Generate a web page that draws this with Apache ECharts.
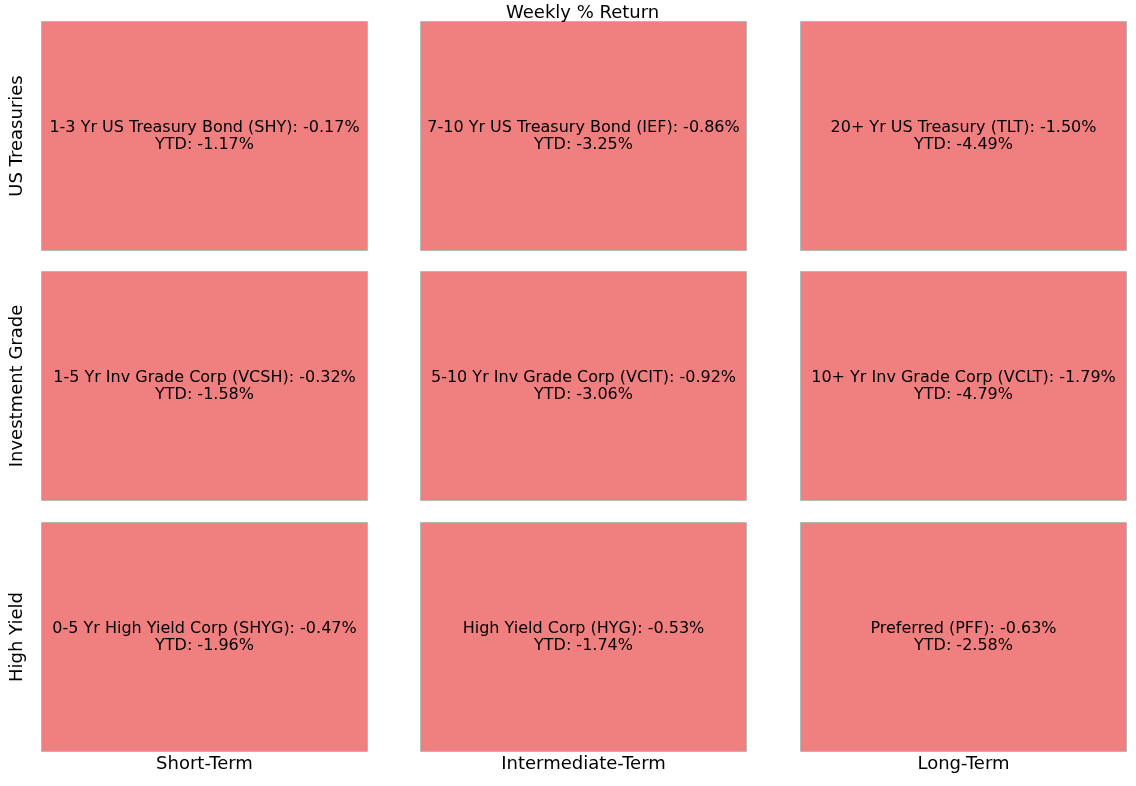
<!DOCTYPE html>
<html>
<head>
<meta charset="utf-8">
<script src="https://cdn.jsdelivr.net/npm/echarts@6/dist/echarts.min.js"></script>
<style>
  html, body { margin: 0; padding: 0; background: #fff; }
  #chart { width: 1136px; height: 786px; }
</style>
</head>
<body>
<div id="chart"></div>
<script>
const rowLabels = ['US Treasuries', 'Investment Grade', 'High Yield'];
const colLabels = ['Short-Term', 'Intermediate-Term', 'Long-Term'];
const fundNames = [
  ['1-3 Yr US Treasury Bond (SHY)', '7-10 Yr US Treasury Bond (IEF)', '20+ Yr US Treasury (TLT)'],
  ['1-5 Yr Inv Grade Corp (VCSH)', '5-10 Yr Inv Grade Corp (VCIT)', '10+ Yr Inv Grade Corp (VCLT)'],
  ['0-5 Yr High Yield Corp (SHYG)', 'High Yield Corp (HYG)', 'Preferred (PFF)'],
];
const weeklyReturn = [
  [-0.17, -0.86, -1.50],
  [-0.32, -0.92, -1.79],
  [-0.47, -0.53, -0.63],
];
const ytdReturn = [
  [-1.17, -3.25, -4.49],
  [-1.58, -3.06, -4.79],
  [-1.96, -1.74, -2.58],
];

const FONT = 'DejaVu Sans';
const colLeft = [41, 420, 800];
const rowTop = [21, 271, 522];
const cellW = 327;
const cellH = 230;

const grids = [];
const xAxes = [];
const yAxes = [];
const series = [];

rowLabels.forEach((rowName, r) => {
  colLabels.forEach((colName, c) => {
    const idx = r * 3 + c;
    grids.push({
      left: colLeft[c], top: rowTop[r], width: cellW, height: cellH,
      show: false,
    });
    xAxes.push({
      gridIndex: idx,
      type: 'category',
      data: [colName],
      axisLine: { show: false },
      axisTick: { show: false },
      axisLabel: { show: false },
      name: r === 2 ? colName : '',
      nameLocation: 'middle',
      nameGap: 3,
      nameTextStyle: { fontFamily: FONT, fontSize: 18, color: '#000', verticalAlign: 'top' },
    });
    yAxes.push({
      gridIndex: idx,
      type: 'value',
      min: 0,
      max: 1,
      axisLine: { show: false },
      axisTick: { show: false },
      axisLabel: { show: false },
      splitLine: { show: false },
      name: c === 0 ? rowName : '',
      nameLocation: 'middle',
      nameRotate: 90,
      nameGap: 15,
      nameTextStyle: { fontFamily: FONT, fontSize: 18, color: '#000' },
    });
    const w = weeklyReturn[r][c];
    series.push({
      type: 'bar',
      xAxisIndex: idx,
      yAxisIndex: idx,
      barWidth: '100%',
      silent: true,
      data: [{
        value: 1,
        itemStyle: {
          color: w < 0 ? '#F08080' : '#90EE90',
          borderColor: '#b8b8b8',
          borderWidth: 1,
        },
      }],
      label: {
        show: true,
        position: 'inside',
        fontFamily: FONT,
        fontSize: 16,
        lineHeight: 17,
        color: '#000',
        align: 'center',
        formatter: () => `${fundNames[r][c]}: ${w.toFixed(2)}%\nYTD: ${ytdReturn[r][c].toFixed(2)}%`,
      },
    });
  });
});

const chart = echarts.init(document.getElementById('chart'), null, { renderer: 'canvas' });
chart.setOption({
  animation: false,
  backgroundColor: '#fff',
  title: {
    text: 'Weekly % Return',
    left: 501,
    top: -1,
    textStyle: { fontFamily: FONT, fontSize: 18, fontWeight: 'normal', color: '#000' },
  },
  grid: grids,
  xAxis: xAxes,
  yAxis: yAxes,
  series: series,
});
</script>
</body>
</html>
